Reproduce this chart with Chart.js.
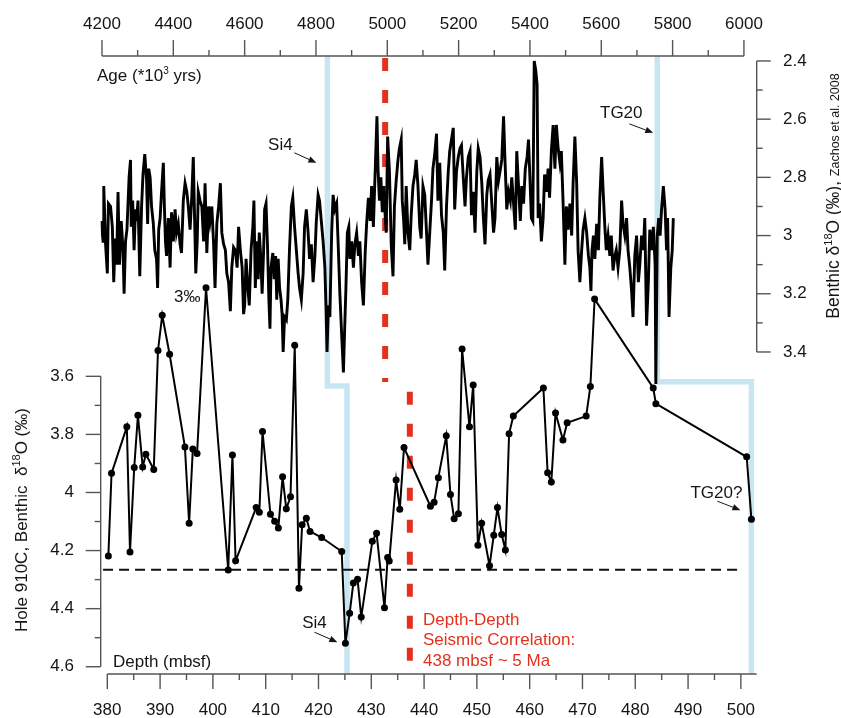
<!DOCTYPE html>
<html><head><meta charset="utf-8">
<script src="https://cdn.jsdelivr.net/npm/chart.js@4.4.1/dist/chart.umd.min.js"></script>
<style>html,body{margin:0;padding:0;background:#fff}#wrap{width:841px;height:718px;position:relative}</style>
</head><body><div id="wrap"><canvas id="c"></canvas></div>
<script>
// ---- Zachos et al. 2008 benthic d18O vs age (kyr) ----
const zachosAge = [4198,4203,4205,4210,4215,4218,4224,4229,4233,4237,4241,4245,4249,4254,4259,4262,4266,4270,4273,4276,4280,4282,4286,4290,4294,4297,4301,4306,4311,4315,4320,4325,4328,4331,4335,4339,4344,4348,4353,4356,4359,4363,4367,4372,4375,4378,4381,4386,4391,4395,4400,4405,4409,4414,4419,4423,4428,4433,4438,4442,4447,4452,4456,4459,4463,4467,4470,4475,4480,4485,4489,4494,4499,4503,4508,4513,4517,4522,4527,4532,4536,4541,4546,4550,4555,4560,4564,4569,4574,4579,4583,4588,4593,4597,
4600,4604,4609,4613,4618,4623,4626,4630,4634,4638,4641,4645,4649,4653,4656,4660,4664,4668,4671,4674,4679,4683,4687,4690,4694,4698,4702,4705,4708,4712,4717,4721,4726,4731,4735,4740,4745,4750,4754,4759,4764,4768,4773,4778,4782,4787,4792,4797,4801,4806,4810,4815,4820,4825,4828,4831,4835,4839,4844,4848,4853,4858,4862,4867,4872,4877,4880,4884,4888,4892,4895,4900,4905,4909,4914,4919,4923,4928,4933,4938,4942,4947,4952,4956,4961,4966,4971,4974,4978,4982,4986,4989,
4997,5001,5006,5011,5016,5020,5025,5030,5034,5039,5042,5046,5049,5053,5058,5063,5067,5072,5077,5081,5086,5091,5095,5100,5105,5110,5114,5119,5124,5128,5133,5138,5142,5147,5152,5157,5161,5166,5171,5175,5180,5185,5189,5194,5199,5204,5208,5213,5218,5222,5227,5232,5236,5241,5246,5251,5255,5260,5265,5269,5274,5279,5283,5288,5293,5298,5302,5307,5312,5316,5321,5326,5330,5335,5340,5345,5349,5354,5359,5363,5368,5373,5377,5382,5387,5392,5396,
5404,5408,5412,5416,5420,5423,5427,5432,5437,5441,5446,5451,5455,5460,5465,5470,5474,5479,5484,5488,5493,5498,5502,5507,5512,5517,5521,5526,5531,5535,5540,5545,5549,5554,5559,5564,5568,5571,5574,5578,5582,5587,5592,5596,5601,5605,5610,5614,5619,5624,5628,5633,5638,5642,5647,5652,5657,5661,5666,5671,5675,5680,5685,5689,5694,5699,5704,5708,5713,5718,5722,5727,5732,5736,5741,5746,5751,5753,5757,5761,5765,5769,5774,5779,5783,5786,5790,5795,5799,5802];
const zachosD18O = [2.95,3.02,2.83,3.03,3.13,2.89,2.90,2.97,3.16,3.01,3.10,2.85,3.10,2.95,3.05,3.20,3.02,2.98,2.89,2.80,2.74,2.97,2.88,3.05,2.91,2.95,2.88,3.14,2.90,2.79,2.72,2.81,2.96,2.77,2.80,2.90,2.96,3.05,3.08,3.18,2.98,2.94,2.85,2.75,2.90,3.02,3.07,2.94,3.11,2.92,3.02,2.91,2.99,2.96,3.03,3.06,2.88,2.82,2.85,2.90,2.98,2.86,2.73,2.90,3.13,3.02,2.85,2.88,2.90,3.02,2.82,3.06,2.90,2.95,2.90,3.03,3.18,2.96,2.90,2.82,2.99,3.03,3.05,3.13,3.16,3.26,3.11,3.04,3.05,3.11,2.97,3.05,3.11,3.27,
3.24,3.08,3.18,3.24,3.05,2.97,2.88,3.18,3.02,3.15,2.99,3.07,3.20,3.06,2.91,2.89,3.03,3.22,3.32,3.11,3.06,3.15,3.07,3.22,3.08,3.18,3.22,3.27,3.40,3.28,3.29,3.22,3.04,2.90,2.87,2.97,3.05,3.13,3.18,3.22,3.13,2.97,2.91,2.99,3.08,3.03,3.16,3.07,2.95,2.86,2.88,2.95,3.02,3.11,3.24,3.40,3.24,3.28,2.99,2.86,2.91,2.89,3.02,3.20,3.34,3.47,3.34,3.18,2.99,2.97,3.08,3.02,3.11,3.03,2.99,3.07,3.02,3.16,3.24,3.06,2.96,2.87,2.95,2.83,2.97,2.78,2.59,2.77,2.88,2.80,2.92,2.83,
2.99,2.66,2.78,3.03,3.14,2.90,2.81,2.74,2.70,2.67,2.88,2.95,3.03,2.83,2.99,3.05,2.93,2.83,2.79,2.74,2.83,2.97,3.01,2.83,2.86,2.99,3.10,2.99,2.88,2.77,2.72,2.65,2.88,2.75,2.93,2.99,3.12,2.90,2.78,2.71,2.67,2.63,2.91,2.78,2.73,2.70,2.69,2.80,2.90,2.80,2.73,2.71,2.93,2.85,2.99,2.78,2.70,2.73,2.82,2.93,3.03,2.86,2.81,2.79,2.89,2.99,2.94,2.73,2.81,2.78,2.74,2.59,2.74,2.91,2.85,2.88,2.80,2.89,2.98,2.71,2.83,2.95,2.83,2.89,2.77,2.73,2.67,
2.94,2.95,2.40,2.43,2.48,2.94,2.89,3.02,2.94,2.79,2.85,2.77,2.87,2.71,2.62,2.77,2.62,2.70,2.75,2.71,2.89,3.10,2.90,2.98,2.89,3.00,2.82,2.66,2.82,3.05,3.16,3.05,2.98,2.94,2.99,3.07,3.11,3.19,3.05,3.00,3.08,2.96,3.05,2.87,2.73,2.84,2.97,3.05,3.00,3.07,3.00,3.12,3.07,3.05,3.11,3.05,2.88,2.96,3.00,2.94,3.05,3.11,3.19,3.28,3.07,3.00,3.16,3.10,3.00,3.05,2.94,3.31,3.16,2.98,3.05,2.97,3.10,3.51,3.00,2.94,3.00,2.91,2.83,2.91,3.05,2.94,3.28,3.11,3.05,2.94];

// ---- Hole 910C benthic d18O vs depth (mbsf) ----
const holeDepth = [380.2,380.8,383.7,384.3,385.1,385.8,386.7,387.3,388.8,389.6,390.4,391.8,394.7,395.5,396.2,397.0,398.7,402.9,403.7,404.3,408.2,408.8,409.4,410.9,411.7,412.4,413.2,413.9,414.7,415.5,416.3,416.9,417.7,418.4,420.6,424.4,425.1,425.9,426.6,427.4,428.1,430.2,431.0,432.5,433.1,433.4,434.7,435.4,436.2,441.2,441.9,442.7,444.2,445.0,445.7,446.5,447.2,448.6,449.3,450.2,450.9,452.4,453.2,453.9,454.7,455.4,456.1,456.9,462.6,463.4,464.1,464.9,466.3,467.1,470.7,471.5,472.3,483.4,483.9,501.1,502.0];
const holeD18O = [4.219,3.934,3.774,4.205,3.914,3.734,3.912,3.868,3.921,3.511,3.390,3.524,3.843,4.106,3.850,3.866,3.295,4.267,3.871,4.235,4.052,4.068,3.790,4.075,4.099,4.122,3.946,4.056,4.015,3.493,4.330,4.111,4.089,4.134,4.155,4.203,4.519,4.416,4.312,4.299,4.429,4.168,4.140,4.397,4.224,4.236,3.957,4.058,3.845,4.047,4.034,3.949,3.805,4.007,4.090,4.073,3.506,3.774,3.630,4.182,4.106,4.252,4.147,4.052,4.145,4.198,3.798,3.737,3.640,3.932,3.964,3.726,3.819,3.760,3.737,3.635,3.334,3.640,3.694,3.877,4.092];

// ---- ticks ----
const depthTicks = [380,390,400,410,420,430,440,450,460,470,480,490,500];
const ageTicks = [4200,4400,4600,4800,5000,5200,5400,5600,5800,6000];
const leftTicks = [3.6,3.8,4,4.2,4.4,4.6];
const rightTicks = [2.4,2.6,2.8,3,3.2,3.4];

// ---- reference markers ----
const markerAge = [4832, 5757];          // Si4, TG20 on age axis
const markerDepth = [425.4, 502.0];      // Si4, TG20? on depth axis
const markerLevel = [3.633, 3.619];      // step level on left axis
const corrAge = [4994, 4994];            const corrAgeD18O = [2.39, 3.503];
const corrDepth = [437.3, 437.3];        const corrDepthD18O = [3.653, 4.601];
const thresholdDepth = [379.2, 499.6];   const thresholdD18O = [4.266, 4.266];

const FONT = "'Liberation Sans', Arial, sans-serif";
const INK = '#151515', AXIS = '#555555', RED = '#e3311d', BLUE = '#c8e6f2';

const pts = (xs, ys) => xs.map((v, i) => ({x: v, y: ys[i]}));

function richDraw(ctx, parts, x, y, align) {
  let w = 0;
  for (const p of parts) { ctx.font = p.size + 'px ' + FONT; w += ctx.measureText(p.t).width; }
  let cx = align === 'center' ? x - w / 2 : (align === 'right' ? x - w : x);
  ctx.textAlign = 'left'; ctx.textBaseline = 'alphabetic';
  for (const p of parts) {
    ctx.font = p.size + 'px ' + FONT;
    ctx.fillText(p.t, cx, y + (p.dy || 0));
    cx += ctx.measureText(p.t).width;
  }
}
function arrow(ctx, x0, y0, x1, y1) {
  const a = Math.atan2(y1 - y0, x1 - x0), L = 8, W = 3.2;
  const bx = x1 - L * Math.cos(a), by = y1 - L * Math.sin(a);
  ctx.beginPath(); ctx.moveTo(x0, y0); ctx.lineTo(bx, by);
  ctx.lineWidth = 1; ctx.strokeStyle = INK; ctx.stroke();
  ctx.beginPath(); ctx.moveTo(x1, y1);
  ctx.lineTo(bx + W * Math.sin(a), by - W * Math.cos(a));
  ctx.lineTo(bx - W * Math.sin(a), by + W * Math.cos(a));
  ctx.closePath(); ctx.fillStyle = INK; ctx.fill();
}

const backdrop = {
  id: 'backdrop',
  beforeDatasetsDraw(chart) {
    const {ctx, chartArea: ca, scales: s} = chart;
    ctx.save();
    ctx.strokeStyle = BLUE; ctx.lineWidth = 5.5; ctx.lineJoin = 'miter';
    for (let i = 0; i < markerAge.length; i++) {
      const xa = s.xAge.getPixelForValue(markerAge[i]);
      const yl = s.y.getPixelForValue(markerLevel[i]);
      const xd = s.x.getPixelForValue(markerDepth[i]);
      ctx.beginPath(); ctx.moveTo(xa, ca.top); ctx.lineTo(xa, yl); ctx.lineTo(xd, yl); ctx.lineTo(xd, ca.bottom);
      ctx.stroke();
    }
    ctx.restore();
  }
};

const axes = {
  id: 'axes',
  afterDatasetsDraw(chart) {
    const {ctx, chartArea: ca, scales: s} = chart;
    ctx.save();
    ctx.strokeStyle = AXIS; ctx.lineWidth = 1.4; ctx.fillStyle = INK;
    const line = (x0, y0, x1, y1) => { ctx.beginPath(); ctx.moveTo(x0, y0); ctx.lineTo(x1, y1); ctx.stroke(); };
    ctx.font = '17px ' + FONT;

    // bottom depth axis
    const yb = ca.bottom;
    line(s.x.getPixelForValue(depthTicks[0]), yb, ca.right, yb);
    ctx.textAlign = 'center'; ctx.textBaseline = 'middle';
    depthTicks.forEach((v, i) => {
      const px = s.x.getPixelForValue(v);
      line(px, yb, px, yb + 15);
      ctx.fillText(String(v), px, 710);
      if (i < depthTicks.length - 1) {
        const mx = s.x.getPixelForValue((v + depthTicks[i + 1]) / 2);
        line(mx, yb, mx, yb + 6);
      }
    });

    // top age axis
    const yt = ca.top;
    line(s.xAge.getPixelForValue(ageTicks[0]), yt, s.xAge.getPixelForValue(ageTicks[ageTicks.length - 1]), yt);
    ageTicks.forEach((v, i) => {
      const px = s.xAge.getPixelForValue(v);
      line(px, yt, px, yt - 16);
      ctx.fillText(String(v), px, 24);
      if (i < ageTicks.length - 1) {
        const mx = s.xAge.getPixelForValue((v + ageTicks[i + 1]) / 2);
        line(mx, yt, mx, yt - 6);
      }
    });

    // left axis
    const xl = ca.left;
    line(xl, s.y.getPixelForValue(leftTicks[0]), xl, s.y.getPixelForValue(leftTicks[leftTicks.length - 1]));
    ctx.textAlign = 'right';
    leftTicks.forEach((v, i) => {
      const py = s.y.getPixelForValue(v);
      line(xl - 15, py, xl, py);
      ctx.fillText(String(v), 74, py);
      if (i < leftTicks.length - 1) {
        const my = s.y.getPixelForValue((v + leftTicks[i + 1]) / 2);
        line(xl - 6, my, xl, my);
      }
    });

    // right axis
    const xr = ca.right;
    line(xr, s.yR.getPixelForValue(rightTicks[0]), xr, s.yR.getPixelForValue(rightTicks[rightTicks.length - 1]));
    ctx.textAlign = 'left';
    rightTicks.forEach((v, i) => {
      const py = s.yR.getPixelForValue(v);
      line(xr, py, xr + 14, py);
      ctx.fillText(String(v), 783, py);
      if (i < rightTicks.length - 1) {
        const my = s.yR.getPixelForValue((v + rightTicks[i + 1]) / 2);
        line(xr, my, xr + 6, my);
      }
    });

    // axis titles
    ctx.fillStyle = INK;
    richDraw(ctx, [{t: 'Age (*10', size: 17}, {t: '3', size: 10, dy: -7}, {t: ' yrs)', size: 17}], 97, 81, 'left');
    richDraw(ctx, [{t: 'Depth (mbsf)', size: 17}], 113, 667, 'left');

    ctx.save(); ctx.translate(27, 520); ctx.rotate(-Math.PI / 2);
    richDraw(ctx, [{t: 'Hole 910C, Benthic  \u03b4', size: 17}, {t: '18', size: 11, dy: -7}, {t: 'O (\u2030)', size: 17}], 0, 0, 'center');
    ctx.restore();

    ctx.save(); ctx.translate(839, 196); ctx.rotate(-Math.PI / 2);
    richDraw(ctx, [{t: 'Benthic \u03b4', size: 17.5}, {t: '18', size: 11, dy: -7}, {t: 'O (\u2030), ', size: 17.5}, {t: 'Zachos et al. 2008', size: 12.5}], 0, 0, 'center');
    ctx.restore();

    // annotations
    ctx.font = '17px ' + FONT; ctx.textAlign = 'center'; ctx.textBaseline = 'middle'; ctx.fillStyle = INK;
    const si4x = s.xAge.getPixelForValue(markerAge[0]), si4y = s.yR.getPixelForValue(2.75);
    ctx.fillText('Si4', si4x - 47, si4y - 17);
    arrow(ctx, si4x - 33, si4y - 10, si4x - 11, si4y);
    const tgx = s.xAge.getPixelForValue(markerAge[1]), tgy = s.yR.getPixelForValue(2.647);
    ctx.fillText('TG20', tgx - 36, tgy - 20);
    arrow(ctx, tgx - 28, tgy - 9, tgx - 4, tgy);
    const lsx = s.x.getPixelForValue(holeDepth[36]), lsy = s.y.getPixelForValue(holeD18O[36]);
    ctx.fillText('Si4', lsx - 31, lsy - 20);
    arrow(ctx, lsx - 31, lsy - 11, lsx - 8, lsy - 1);
    const n = holeDepth.length - 1;
    const tqx = s.x.getPixelForValue(holeDepth[n]), tqy = s.y.getPixelForValue(holeD18O[n]);
    ctx.fillText('TG20?', tqx - 35, tqy - 26);
    arrow(ctx, tqx - 34, tqy - 18, tqx - 11, tqy - 9);
    ctx.textAlign = 'left';
    ctx.fillText('3\u2030', 174, 297);

    ctx.fillStyle = RED;
    ctx.fillText('Depth-Depth', 423, 620);
    ctx.fillText('Seismic Correlation:', 423, 640);
    ctx.fillText('438 mbsf ~ 5 Ma', 423, 661);
    ctx.restore();
  }
};

new Chart(document.getElementById('c'), {
  type: 'line',
  data: {
    datasets: [
      {label: 'Zachos et al. 2008', data: pts(zachosAge, zachosD18O), xAxisID: 'xAge', yAxisID: 'yR',
       borderColor: '#000', borderWidth: 2.9, pointRadius: 0, borderJoinStyle: 'miter', tension: 0, fill: false},
      {label: 'Hole 910C', data: pts(holeDepth, holeD18O), xAxisID: 'x', yAxisID: 'y',
       borderColor: '#000', borderWidth: 2, pointRadius: 3.5, pointBackgroundColor: '#000', pointBorderWidth: 0,
       borderJoinStyle: 'miter', tension: 0, fill: false},
      {label: 'threshold', data: pts(thresholdDepth, thresholdD18O), xAxisID: 'x', yAxisID: 'y',
       borderColor: '#111', borderWidth: 2, borderDash: [10, 6], pointRadius: 0, fill: false},
      {label: 'corr age', data: pts(corrAge, corrAgeD18O), xAxisID: 'xAge', yAxisID: 'yR',
       borderColor: RED, borderWidth: 6, borderDash: [13, 19], borderCapStyle: 'butt', pointRadius: 0, fill: false},
      {label: 'corr depth', data: pts(corrDepth, corrDepthD18O), xAxisID: 'x', yAxisID: 'y',
       borderColor: RED, borderWidth: 6, borderDash: [13, 19], borderCapStyle: 'butt', pointRadius: 0, fill: false}
    ]
  },
  options: {
    responsive: true, maintainAspectRatio: false, animation: false,
    layout: {padding: {left: 100.7, right: 84.3, top: 56, bottom: 44}},
    plugins: {legend: {display: false}, tooltip: {enabled: false}},
    events: [],
    scales: {
      x: {type: 'linear', position: 'bottom', min: 378.75, max: 503.0, display: false},
      xAge: {type: 'linear', position: 'top', min: 4196.4, max: 6035.8, display: false},
      y: {type: 'linear', position: 'left', reverse: true, min: 2.497, max: 4.625, display: false},
      yR: {type: 'linear', position: 'right', reverse: true, min: 2.383, max: 4.5065, display: false}
    }
  },
  plugins: [backdrop, axes]
});
</script>
</body></html>
